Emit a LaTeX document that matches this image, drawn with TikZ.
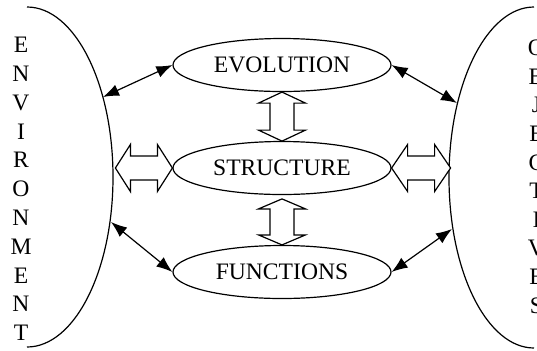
\documentclass[tikz,border=0pt]{standalone}
\usepackage{fontspec}
\setmainfont{Liberation Serif}
\usetikzlibrary{shapes.geometric,arrows.meta}

\tikzset{
  topic/.style={draw, ellipse, line width=0.6pt, minimum width=109pt, minimum height=26.5pt, inner sep=0pt},
  link/.style={{Latex[length=8pt,width=6pt]}-{Latex[length=8pt,width=6pt]}, line width=0.6pt},
  blk/.style={draw, line width=0.6pt, fill=white},
  pics/dblarr/.style 2 args={code={
    \draw[blk] (0,0) -- (#2,-23.5) -- (#2,-12) -- (#1-#2,-12) -- (#1-#2,-23.5) -- (#1,0)
      -- (#1-#2,23.5) -- (#1-#2,12) -- (#2,12) -- (#2,23.5) -- cycle;
  }}
}

\begin{document}
\begin{tikzpicture}[x=0.5pt, y=-0.5pt, font=\fontsize{11.8}{14}\selectfont]
  \clip (0,0) rectangle (537,350);
  % topics in the middle
  \node[topic] (evo) at (282,65) {EVOLUTION};
  \node[topic] (str) at (282,168) {STRUCTURE};
  \node[topic] (fun) at (282,272) {FUNCTIONS};
  % half ellipses on both sides
  \draw[line width=0.6pt] (27,7) arc[start angle=-90, end angle=90, x radius=86, y radius=170];
  \draw[line width=0.6pt] (534,7) arc[start angle=270, end angle=90, x radius=85, y radius=170.5];
  \foreach \c [count=\i] in {E,N,V,I,R,O,N,M,E,N,T}
    \node (env\i) at (21,{45+28.8*(\i-1)}) {\c};
  \foreach \c [count=\i] in {O,B,J,E,C,T,I,V,E,S}
    \node (obj\i) at (536.5,{48+28.6*(\i-1)}) {\c};
  % points where the links meet the sides
  \coordinate (envA) at (103,97);
  \coordinate (envB) at (111,222);
  \coordinate (objA) at (457,103);
  \coordinate (objB) at (452,229);
  \draw[link] (envA) -- (evo.west);
  \draw[link] (envB) -- (fun.west);
  \draw[link] (objA) -- (evo.east);
  \draw[link] (objB) -- (fun.east);
  % block arrows
  \pic[rotate=-90] at (evo.south) {dblarr={49}{11}};
  \pic[rotate=90] at (fun.north) {dblarr={46}{10}};
  \pic[rotate=180] at (str.west) {dblarr={57}{15}};
  \pic at (str.east) {dblarr={59}{16}};
\end{tikzpicture}
\end{document}
